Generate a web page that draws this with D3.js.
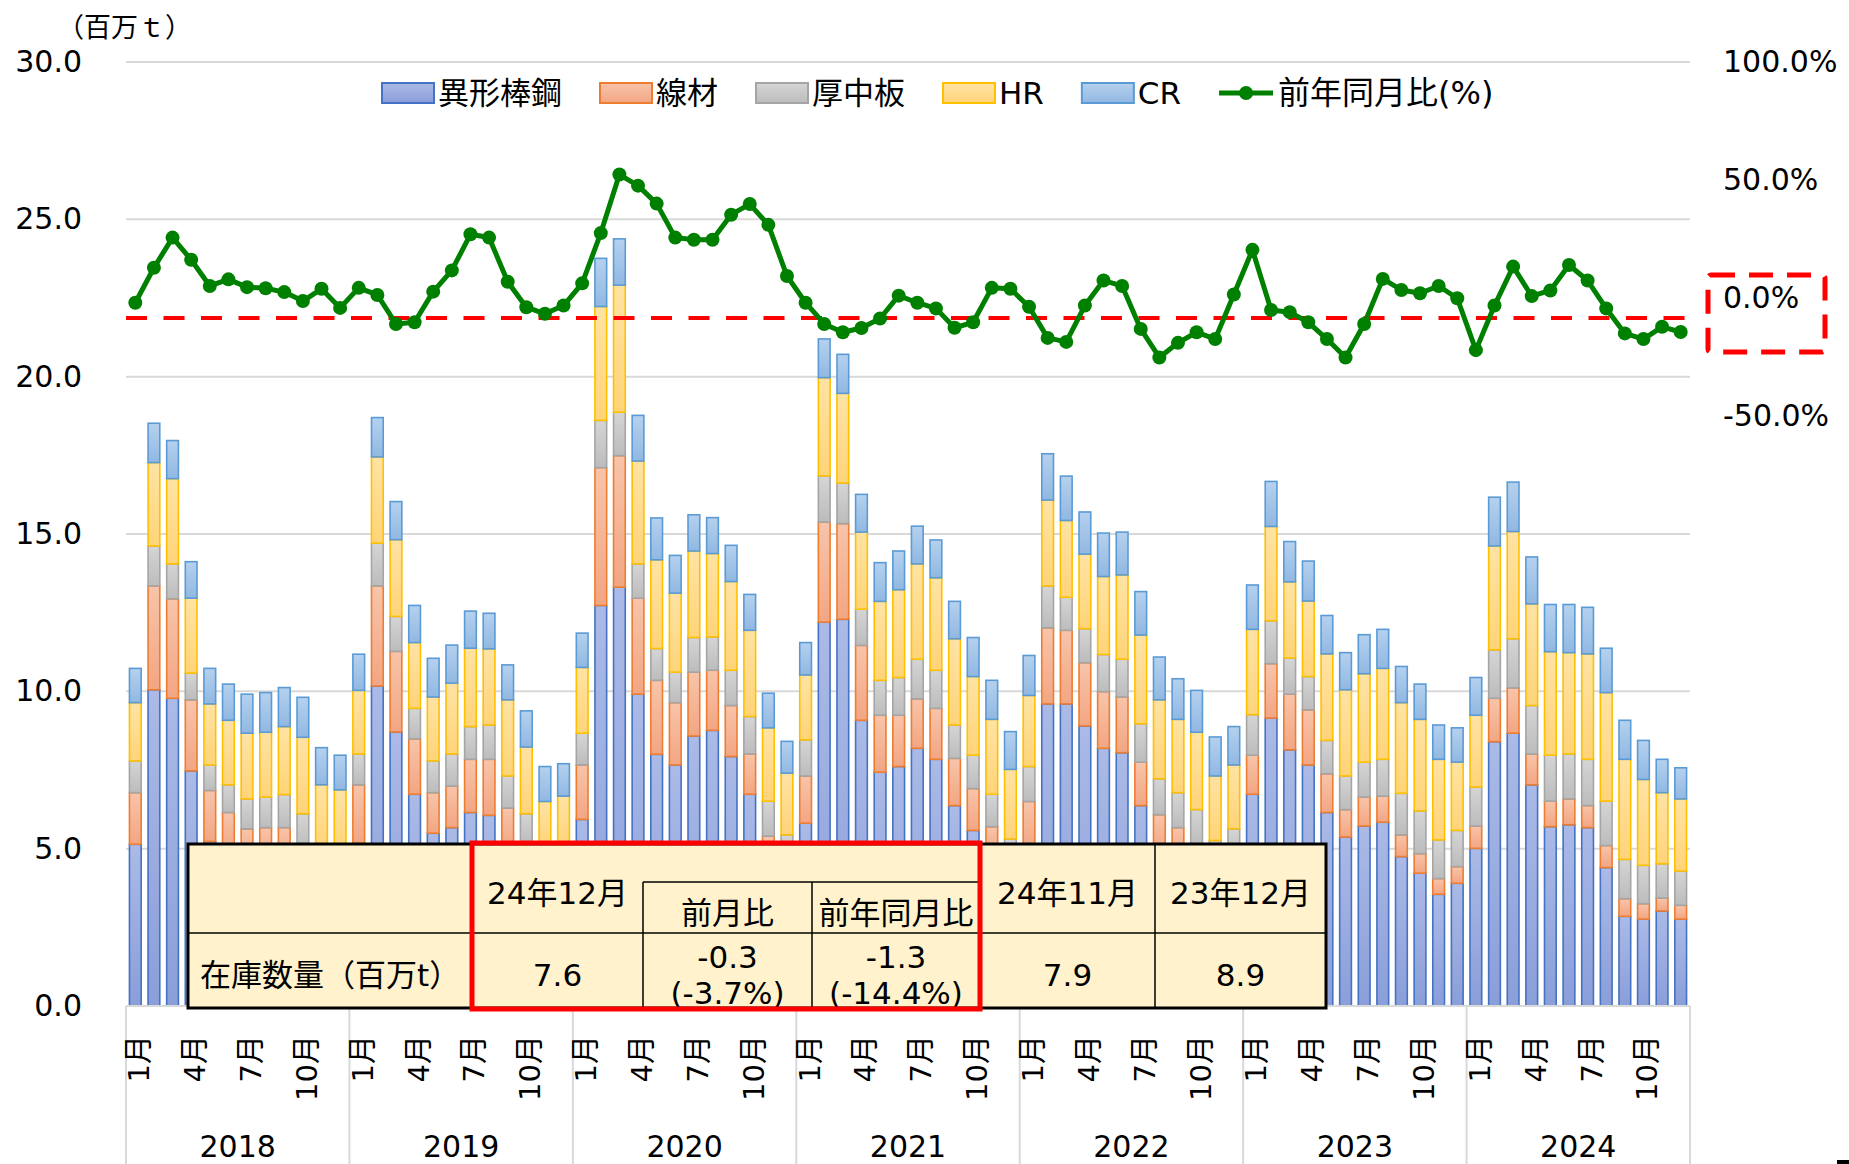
<!DOCTYPE html>
<html lang="ja">
<head>
<meta charset="utf-8">
<script src="https://cdn.jsdelivr.net/npm/d3@7"></script>
<style>
    body { margin: 0; background: #fff; }
    svg { display: block; font-family: 'DejaVu Sans', 'Noto Sans CJK JP', sans-serif; }
</style>
</head>
<body>
<div id="chart"></div>
<script>
const width = 1849;
const height = 1164;
const margin = {'top': 62, 'bottom': 158, 'left': 126, 'right': 159};
let svg;

// categories
const years = ['2018', '2019', '2020', '2021', '2022', '2023', '2024'];
const monthNames = ['1月', '2月', '3月', '4月', '5月', '6月', '7月', '8月', '9月', '10月', '11月', '12月'];
const tickMonths = ['1月', '4月', '7月', '10月'];
const seriesNames = ['異形棒鋼', '線材', '厚中板', 'HR', 'CR'];
const lineName = '前年同月比(%)';
const unitLabel = '（百万ｔ）';

// stock (million t), jan 2018 - dec 2024
const ikei = [
    5.14, 10.05, 9.78, 7.47, 5.23, 4.9, 4.5, 4.6, 4.6, 4.0, 3.3, 3.2,
    5.17, 10.17, 8.71, 6.73, 5.49, 5.67, 6.15, 6.06, 5.0, 4.3, 3.6, 3.5,
    5.93, 12.73, 13.31, 9.91, 8.0, 7.66, 8.58, 8.76, 7.93, 6.73, 4.5, 3.8,
    5.81, 12.2, 12.29, 9.08, 7.43, 7.61, 8.19, 7.84, 6.37, 5.58, 4.8, 3.9,
    5.0, 9.6, 9.6, 8.9, 8.19, 8.05, 6.37, 4.9, 4.7, 4.3, 3.8, 3.9,
    6.73, 9.15, 8.14, 7.66, 6.15, 5.37, 5.72, 5.84, 4.75, 4.22, 3.55, 3.9,
    5.01, 8.4, 8.67, 7.03, 5.7, 5.76, 5.67, 4.4, 2.85, 2.76, 3.02, 2.76
];
const senzai = [
    1.64, 3.30, 3.16, 2.26, 1.62, 1.25, 1.13, 1.07, 1.07, 1.0, 0.85, 0.8,
    1.86, 3.18, 2.56, 1.76, 1.29, 1.32, 1.69, 1.78, 1.29, 0.85, 0.8, 0.8,
    1.73, 4.38, 4.18, 3.05, 2.35, 1.98, 2.03, 1.91, 1.62, 1.28, 0.9, 0.75,
    1.5, 3.18, 3.04, 2.38, 1.81, 1.63, 1.57, 1.62, 1.5, 1.33, 0.9, 0.7,
    1.5, 2.42, 2.34, 2.01, 1.8, 1.77, 1.38, 1.18, 0.97, 0.8, 0.7, 0.75,
    1.24, 1.73, 1.77, 1.75, 1.23, 0.87, 0.92, 0.83, 0.69, 0.62, 0.5, 0.53,
    0.71, 1.38, 1.44, 0.98, 0.81, 0.82, 0.7, 0.7, 0.56, 0.49, 0.41, 0.44
];
const atsuita = [
    1.01, 1.27, 1.11, 0.85, 0.81, 0.88, 0.95, 0.97, 1.05, 1.11, 0.85, 0.9,
    0.98, 1.36, 1.11, 0.97, 1.01, 1.02, 1.04, 1.09, 1.02, 0.96, 0.7, 0.75,
    1.01, 1.50, 1.38, 1.09, 1.01, 0.97, 1.10, 1.06, 1.12, 1.19, 1.11, 0.89,
    1.15, 1.47, 1.29, 1.15, 1.11, 1.2, 1.26, 1.21, 1.06, 1.06, 1.03, 0.71,
    1.11, 1.33, 1.05, 1.08, 1.18, 1.2, 1.22, 1.14, 1.11, 1.14, 0.76, 0.98,
    1.29, 1.36, 1.15, 1.06, 1.06, 1.07, 1.11, 1.17, 1.32, 1.36, 1.23, 1.15,
    1.24, 1.54, 1.56, 1.54, 1.46, 1.43, 1.47, 1.41, 1.25, 1.22, 1.09, 1.09
];
const hr = [
    1.85, 2.65, 2.71, 2.38, 1.94, 2.05, 2.09, 2.06, 2.16, 2.43, 2.03, 1.97,
    2.02, 2.74, 2.44, 2.09, 2.03, 2.25, 2.49, 2.42, 2.42, 2.12, 1.4, 1.62,
    2.09, 3.62, 4.04, 3.27, 2.82, 2.51, 2.75, 2.65, 2.82, 2.74, 2.33, 1.96,
    2.06, 3.12, 2.85, 2.45, 2.51, 2.79, 3.03, 2.94, 2.74, 2.5, 2.38, 2.21,
    2.26, 2.73, 2.44, 2.37, 2.48, 2.68, 2.82, 2.51, 2.33, 2.46, 2.05, 2.03,
    2.71, 3.0, 2.42, 2.4, 2.75, 2.74, 2.81, 2.89, 2.88, 2.91, 2.56, 2.17,
    2.28, 3.3, 3.41, 3.23, 3.29, 3.22, 3.35, 3.45, 3.18, 2.73, 2.26, 2.29
];
const cr = [
    1.09, 1.25, 1.21, 1.16, 1.13, 1.15, 1.24, 1.26, 1.24, 1.27, 1.18, 1.10,
    1.15, 1.25, 1.21, 1.18, 1.23, 1.21, 1.18, 1.13, 1.11, 1.15, 1.11, 1.03,
    1.09, 1.53, 1.47, 1.45, 1.33, 1.2, 1.15, 1.14, 1.15, 1.14, 1.10, 1.01,
    1.03, 1.23, 1.24, 1.2, 1.23, 1.23, 1.2, 1.2, 1.19, 1.24, 1.24, 1.2,
    1.27, 1.47, 1.41, 1.34, 1.38, 1.36, 1.38, 1.36, 1.29, 1.33, 1.24, 1.22,
    1.41, 1.43, 1.28, 1.27, 1.22, 1.18, 1.24, 1.24, 1.15, 1.12, 1.09, 1.09,
    1.2, 1.55, 1.57, 1.49, 1.5, 1.53, 1.48, 1.41, 1.24, 1.24, 1.06, 0.99
];
// year on year (%)
const yoy = [
    -2.0, 12.8, 25.6, 16.2, 5.1, 7.9, 4.6, 4.1, 2.5, -1.3, 3.9, -4.2,
    4.3, 1.3, -11.0, -10.3, 2.7, 11.7, 27.0, 25.6, 6.9, -3.9, -6.7, -3.2,
    6.2, 27.5, 52.3, 47.6, 40.0, 25.6, 24.7, 24.7, 35.3, 39.8, 31.0, 9.3,
    -2.0, -11.0, -14.5, -12.7, -8.7, 1.0, -2.0, -4.4, -12.6, -10.3, 4.3, 3.9,
    -3.7, -16.9, -18.6, -3.2, 7.4, 5.1, -13.1, -25.2, -19.0, -14.5, -17.4, 1.5,
    20.4, -5.1, -6.0, -10.3, -17.4, -25.2, -11.0, 8.1, 3.4, 2.0, 5.1, -0.1,
    -22.1, -3.2, 13.3, 0.8, 3.2, 14.0, 7.4, -4.4, -15.0, -17.4, -12.2, -14.4
];

// axis ticks
const leftTicks = [0, 5, 10, 15, 20, 25, 30];
const rightTicks = [-50, 0, 50, 100];
const refLineValue = -8.5;

// summary table
const tableHead = ['24年12月', '前月比', '前年同月比', '24年11月', '23年12月'];
const tableRowLabel = '在庫数量（百万t）';
const tableCells = [['7.6'], ['-0.3', '(-3.7%)'], ['-1.3', '(-14.4%)'], ['7.9'], ['8.9']];

// styles
const fillTop = ['#abbae6', '#f8c4aa', '#d5d5d5', '#ffe3a4', '#b5d1ee'];
const fillBottom = ['#8a9ed9', '#f2a683', '#bcbcbc', '#ffd479', '#91b8e2'];
const strokes = ['#4472c4', '#ed7d31', '#a5a5a5', '#ffc000', '#5b9bd5'];
const lineColor = '#008000';
const gridColor = '#d9d9d9';

window.addEventListener('load', () => {
    drawChart();
});

const drawChart = () => {
    svg = d3.select('#chart')
    .append('svg')
    .attr('width', width)
    .attr('height', height);

    const categories = [];
    years.forEach((yr) => monthNames.forEach((m) => categories.push(yr + '-' + m)));

    const rows = categories.map((c, i) => ({
        cat: c, '異形棒鋼': ikei[i], '線材': senzai[i], '厚中板': atsuita[i], 'HR': hr[i], 'CR': cr[i]
    }));

    // scales
    const xScale = d3.scaleBand()
    .domain(categories)
    .range([margin.left, width - margin.right])
    .paddingInner(0.37)
    .paddingOuter(0.185);

    const yScale = d3.scaleLinear()
    .domain([0, 30])
    .range([height - margin.bottom, margin.top]);

    const yRight = d3.scaleLinear()
    .domain([-300, 100])
    .range([height - margin.bottom, margin.top]);

    const x0 = margin.left;
    const x1 = width - margin.right;
    const yBase = height - margin.bottom;

    // gradients
    const defs = svg.append('defs');
    seriesNames.forEach((s, i) => {
        const g = defs.append('linearGradient')
        .attr('id', 'grad' + i)
        .attr('x1', 0).attr('y1', 0).attr('x2', 0).attr('y2', 1);
        g.append('stop').attr('offset', '0%').attr('stop-color', fillTop[i]);
        g.append('stop').attr('offset', '100%').attr('stop-color', fillBottom[i]);
    });

    // gridlines
    svg.append('g')
    .selectAll('line')
    .data(leftTicks)
    .join('line')
    .attr('x1', x0)
    .attr('x2', x1)
    .attr('y1', (d) => yScale(d))
    .attr('y2', (d) => yScale(d))
    .attr('stroke', gridColor)
    .attr('stroke-width', 2);

    // stacked bars
    const stacked = d3.stack().keys(seriesNames)(rows);
    svg.append('g')
    .selectAll('g')
    .data(stacked)
    .join('g')
    .attr('fill', (d, i) => 'url(#grad' + i + ')')
    .attr('stroke', (d, i) => strokes[i])
    .attr('stroke-width', 1.6)
    .selectAll('rect')
    .data((d) => d)
    .join('rect')
    .attr('x', (d) => xScale(d.data.cat))
    .attr('y', (d) => yScale(d[1]))
    .attr('width', xScale.bandwidth())
    .attr('height', (d) => yScale(d[0]) - yScale(d[1]));

    // red dashed reference line
    svg.append('line')
    .attr('x1', x0)
    .attr('x2', x1 + 8)
    .attr('y1', yRight(refLineValue))
    .attr('y2', yRight(refLineValue))
    .attr('stroke', '#ff0000')
    .attr('stroke-width', 4)
    .attr('stroke-dasharray', '21,16.5');

    // yoy line
    const cx = (i) => xScale(categories[i]) + xScale.bandwidth() / 2;
    svg.append('path')
    .datum(yoy)
    .attr('fill', 'none')
    .attr('stroke', lineColor)
    .attr('stroke-width', 5)
    .attr('stroke-linejoin', 'round')
    .attr('d', d3.line()
        .x((d, i) => cx(i))
        .y((d) => yRight(d))
    );
    svg.append('g')
    .selectAll('circle')
    .data(yoy)
    .join('circle')
    .attr('cx', (d, i) => cx(i))
    .attr('cy', (d) => yRight(d))
    .attr('r', 7)
    .attr('fill', lineColor);

    // left axis
    svg.append('g')
    .attr('transform', 'translate(82, 0)')
    .call(d3.axisLeft(yScale).tickValues(leftTicks).tickFormat(d3.format('.1f')).tickSize(0).tickPadding(0))
    .call((g) => g.select('.domain').remove())
    .attr('font-family', null)
    .attr('font-size', 30)
    .selectAll('text').attr('fill', '#000');

    // right axis
    svg.append('g')
    .attr('transform', 'translate(1723, 0)')
    .call(d3.axisRight(yRight).tickValues(rightTicks).tickFormat((d) => d.toFixed(1) + '%').tickSize(0).tickPadding(0))
    .call((g) => g.select('.domain').remove())
    .attr('font-family', null)
    .attr('font-size', 30)
    .selectAll('text').attr('fill', '#000');

    // unit label
    svg.append('text')
    .attr('x', 57)
    .attr('y', 27)
    .attr('dominant-baseline', 'central')
    .attr('font-size', 27)
    .text(unitLabel);

    // category axis
    svg.append('line')
    .attr('x1', x0).attr('x2', x1)
    .attr('y1', yBase).attr('y2', yBase)
    .attr('stroke', gridColor)
    .attr('stroke-width', 2);

    const step = xScale.step();
    const yearEdge = (k) => xScale(categories[k * 12]) - step * xScale.paddingOuter();
    const edges = years.map((y, k) => yearEdge(k)).concat([x1]);
    svg.append('g')
    .selectAll('line')
    .data(edges)
    .join('line')
    .attr('x1', (d) => d).attr('x2', (d) => d)
    .attr('y1', yBase).attr('y2', height)
    .attr('stroke', gridColor)
    .attr('stroke-width', 2);

    const monthTicks = categories.filter((c) => tickMonths.includes(c.split('-')[1]));
    svg.append('g')
    .selectAll('text')
    .data(monthTicks)
    .join('text')
    .attr('transform', (d) => 'translate(' + (xScale(d) + xScale.bandwidth() / 2 + 4) + ',1035) rotate(-90)')
    .attr('text-anchor', 'end')
    .attr('dominant-baseline', 'central')
    .attr('font-size', 29)
    .text((d) => d.split('-')[1]);

    svg.append('g')
    .selectAll('text')
    .data(years)
    .join('text')
    .attr('x', (d, k) => (edges[k] + edges[k + 1]) / 2)
    .attr('y', 1146)
    .attr('text-anchor', 'middle')
    .attr('dominant-baseline', 'central')
    .attr('font-size', 30)
    .text((d) => d);

    // legend
    const legend = svg.append('g').attr('font-size', 31);
    let lx = 382;
    seriesNames.forEach((s, i) => {
        legend.append('rect')
        .attr('x', lx).attr('y', 83)
        .attr('width', 52).attr('height', 20)
        .attr('fill', 'url(#grad' + i + ')')
        .attr('stroke', strokes[i])
        .attr('stroke-width', 2);
        const t = legend.append('text')
        .attr('x', lx + 56).attr('y', 93)
        .attr('dominant-baseline', 'central')
        .text(s);
        lx += 56 + t.node().getComputedTextLength() + 38;
    });
    legend.append('line')
    .attr('x1', lx).attr('x2', lx + 54)
    .attr('y1', 93).attr('y2', 93)
    .attr('stroke', lineColor)
    .attr('stroke-width', 5);
    legend.append('circle')
    .attr('cx', lx + 27).attr('cy', 93).attr('r', 7)
    .attr('fill', lineColor);
    legend.append('text')
    .attr('x', lx + 59).attr('y', 93)
    .attr('dominant-baseline', 'central')
    .attr('font-size', 32)
    .text(lineName);

    drawTable();
    drawLabelBox(yRight);
}

// summary table over the lower plot
const drawTable = () => {
    const cols = [188, 472, 643, 812, 980, 1155, 1326];
    const top = 844, sub = 882, mid = 933, bottom = 1008;
    const t = svg.append('g').attr('font-size', 31);

    t.append('rect')
    .attr('x', cols[0]).attr('y', top)
    .attr('width', cols[6] - cols[0]).attr('height', bottom - top)
    .attr('fill', '#fff2cc');

    const thin = (xa, ya, xb, yb) => t.append('line')
        .attr('x1', xa).attr('y1', ya).attr('x2', xb).attr('y2', yb)
        .attr('stroke', '#000').attr('stroke-width', 1.5);

    thin(cols[0], mid, cols[6], mid);
    thin(cols[2], sub, cols[4], sub);
    thin(cols[1], top, cols[1], bottom);
    thin(cols[2], sub, cols[2], bottom);
    thin(cols[3], sub, cols[3], bottom);
    thin(cols[4], top, cols[4], bottom);
    thin(cols[5], top, cols[5], bottom);

    t.append('rect')
    .attr('x', cols[0]).attr('y', top)
    .attr('width', cols[6] - cols[0]).attr('height', bottom - top)
    .attr('fill', 'none')
    .attr('stroke', '#000')
    .attr('stroke-width', 3);

    // header
    const headPos = [
        [(cols[1] + cols[2]) / 2, 893],
        [(cols[2] + cols[3]) / 2, 913],
        [(cols[3] + cols[4]) / 2, 913],
        [(cols[4] + cols[5]) / 2, 893],
        [(cols[5] + cols[6]) / 2, 893]
    ];
    tableHead.forEach((h, i) => {
        t.append('text')
        .attr('x', headPos[i][0]).attr('y', headPos[i][1])
        .attr('text-anchor', 'middle')
        .attr('dominant-baseline', 'central')
        .text(h);
    });

    t.append('text')
    .attr('x', 200).attr('y', 975)
    .attr('dominant-baseline', 'central')
    .text(tableRowLabel);

    tableCells.forEach((cell, i) => {
        const xm = (cols[i + 1] + cols[i + 2]) / 2;
        const ys = cell.length === 1 ? [975] : [957, 993];
        cell.forEach((v, j) => {
            t.append('text')
            .attr('x', xm).attr('y', ys[j])
            .attr('text-anchor', 'middle')
            .attr('dominant-baseline', 'central')
            .text(v);
        });
    });

    // red highlight around current month
    t.append('rect')
    .attr('x', cols[1]).attr('y', top - 1)
    .attr('width', cols[4] - cols[1]).attr('height', bottom - top + 2)
    .attr('fill', 'none')
    .attr('stroke', '#ff0000')
    .attr('stroke-width', 5);
}

// dashed box round the 0% label
const drawLabelBox = (yRight) => {
    const y0 = yRight(0);
    svg.append('rect')
    .attr('x', 1708).attr('y', y0 - 23)
    .attr('width', 117).attr('height', 77)
    .attr('rx', 3)
    .attr('fill', 'none')
    .attr('stroke', '#ff0000')
    .attr('stroke-width', 5)
    .attr('stroke-dasharray', '24,14');

    svg.append('rect')
    .attr('x', 1837).attr('y', 1160)
    .attr('width', 12).attr('height', 4)
    .attr('fill', '#000');
}
</script>
</body>
</html>
